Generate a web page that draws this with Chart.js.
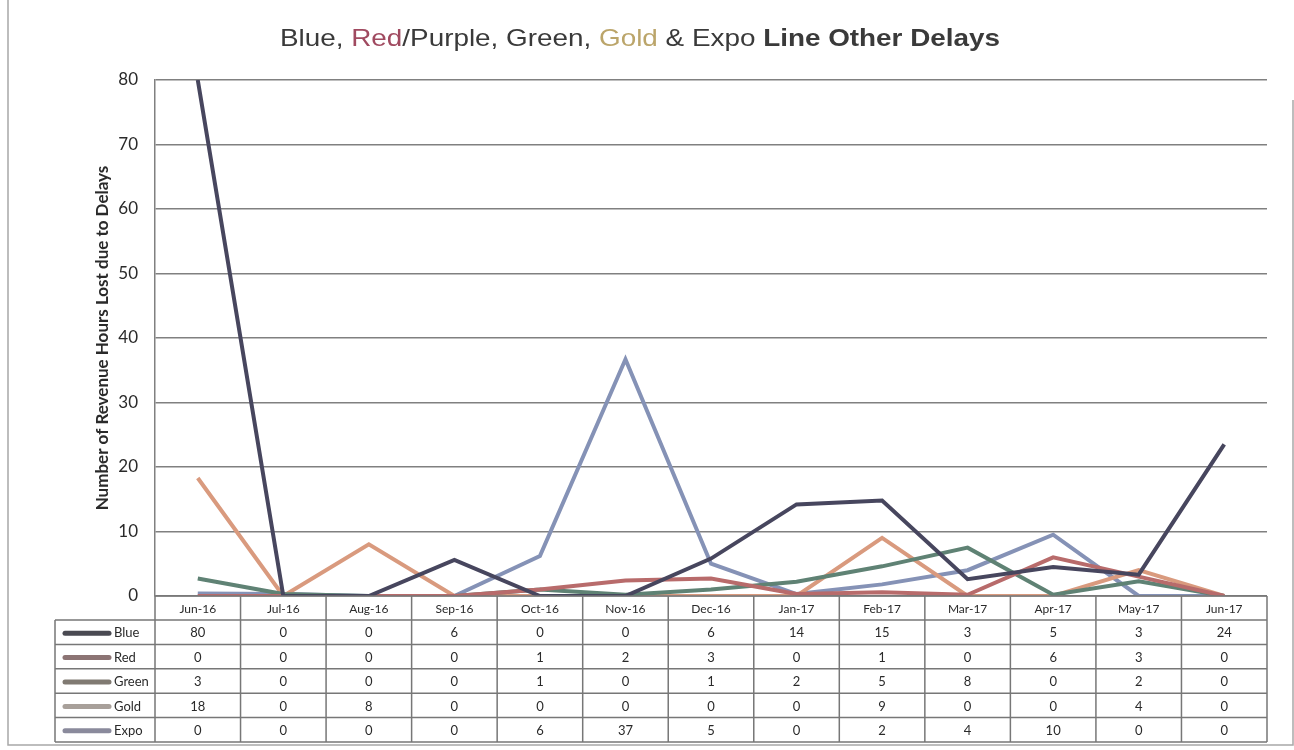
<!DOCTYPE html>
<html>
<head>
<meta charset="utf-8">
<script src="https://cdn.jsdelivr.net/npm/chart.js@4/dist/chart.umd.min.js"></script>
<style>
  html, body { margin: 0; padding: 0; background: #fff; }
  #wrap { width: 1294px; height: 750px; position: relative; }
</style>
</head>
<body>
<div id="wrap"><canvas id="delayChart" width="1294" height="750"></canvas></div>
<script>
/* Other delays by line — Chart.js line chart with a data table underneath */
const months = ['Jun-16', 'Jul-16', 'Aug-16', 'Sep-16', 'Oct-16', 'Nov-16', 'Dec-16',
                'Jan-17', 'Feb-17', 'Mar-17', 'Apr-17', 'May-17', 'Jun-17'];
const blueLine  = [80, 0, 0, 5.6, 0, 0, 5.8, 14.2, 14.8, 2.6, 4.5, 3.3, 23.5];
const redLine   = [0, 0, 0, 0, 1, 2.4, 2.7, 0.3, 0.6, 0.2, 6, 3, 0];
const greenLine = [2.7, 0.3, 0, 0, 1, 0.2, 1, 2.2, 4.6, 7.5, 0.2, 2.3, 0];
const goldLine  = [18.3, 0, 8, 0, 0, 0, 0, 0, 9, 0, 0, 4, 0];
const expoLine  = [0.4, 0.3, 0, 0, 6.2, 36.7, 5, 0.3, 1.8, 4, 9.5, 0, 0];
const yTicks    = [0, 10, 20, 30, 40, 50, 60, 70, 80];

const lineColors = {
  Blue: '#47465e',
  Red: '#b86b6b',
  Green: '#5f8274',
  Gold: '#d99a7e',
  Expo: '#8592b6',
};
const swatchColors = {
  Blue: '#4a4a52',
  Red: '#8c7474',
  Green: '#807a72',
  Gold: '#a8a09a',
  Expo: '#8a8a9c',
};

const gridColor = '#808080';
const textColor = '#2a2a2a';

const series = [
  { label: 'Blue', data: blueLine },
  { label: 'Red', data: redLine },
  { label: 'Green', data: greenLine },
  { label: 'Gold', data: goldLine },
  { label: 'Expo', data: expoLine },
];

// ── Title, axis title, data table, frame ───────────────────────
const extrasPlugin = {
  id: 'extras',
  afterDraw(chart) {
    const ctx = chart.ctx;
    const area = chart.chartArea;
    const x = chart.scales.x;

    // title with coloured words (the scan is stretched sideways a little)
    const parts = [
      { t: 'Blue, ', c: '#3a3a3a', b: false },
      { t: 'Red', c: '#a04a60', b: false },
      { t: '/Purple, Green, ', c: '#3a3a3a', b: false },
      { t: 'Gold', c: '#bba56a', b: false },
      { t: ' & Expo ', c: '#3a3a3a', b: false },
      { t: 'Line Other Delays', c: '#3a3a3a', b: true },
    ];
    const titleFont = b => (b ? 'bold ' : '') + '24px "Liberation Sans", Arial, sans-serif';
    ctx.save();
    ctx.textBaseline = 'middle';
    let total = 0;
    parts.forEach(p => {
      ctx.font = titleFont(p.b);
      p.w = ctx.measureText(p.t).width;
      total += p.w;
    });
    const stretch = 720 / total;
    ctx.save();
    ctx.translate(640 - 360, 39);
    ctx.scale(stretch, 1);
    let tx = 0;
    parts.forEach(p => {
      ctx.font = titleFont(p.b);
      ctx.fillStyle = p.c;
      ctx.textAlign = 'left';
      ctx.fillText(p.t, tx, 0);
      tx += p.w;
    });
    ctx.restore();

    // y axis title
    ctx.save();
    ctx.translate(103, (area.top + area.bottom) / 2);
    ctx.rotate(-Math.PI / 2);
    ctx.font = 'bold 17px Lato, "Open Sans", sans-serif';
    ctx.fillStyle = textColor;
    ctx.textAlign = 'center';
    ctx.fillText('Number of Revenue Hours Lost due to Delays', 0, 0);
    ctx.restore();

    // data table
    const colW = (area.right - area.left) / months.length;
    const headTop = area.bottom;
    const headBot = headTop + 24;
    const rowH = 24.4;
    const tableLeft = 55;
    const tableBot = headBot + rowH * series.length;

    ctx.strokeStyle = '#777';
    ctx.lineWidth = 1.5;
    ctx.beginPath();
    ctx.moveTo(area.left, headTop); ctx.lineTo(area.right, headTop);
    for (let i = 0; i <= months.length; i++) {
      const cx = area.left + i * colW;
      ctx.moveTo(cx, headTop); ctx.lineTo(cx, tableBot);
    }
    for (let r = 0; r <= series.length; r++) {
      const ry = headBot + r * rowH;
      ctx.moveTo(tableLeft, ry); ctx.lineTo(area.right, ry);
    }
    ctx.moveTo(tableLeft, headBot); ctx.lineTo(tableLeft, tableBot);
    ctx.stroke();

    ctx.fillStyle = textColor;
    ctx.textAlign = 'center';
    ctx.font = '12px Lato, "Open Sans", sans-serif';
    months.forEach((m, i) => {
      ctx.fillText(m, x.getPixelForValue(i), (headTop + headBot) / 2 + 1);
    });

    ctx.font = '13px Lato, "Open Sans", sans-serif';
    series.forEach((s, r) => {
      const cy = headBot + r * rowH + rowH / 2 + 1;
      ctx.strokeStyle = swatchColors[s.label];
      ctx.lineWidth = 5;
      ctx.lineCap = 'round';
      ctx.beginPath();
      ctx.moveTo(65, cy); ctx.lineTo(109, cy);
      ctx.stroke();
      ctx.fillStyle = textColor;
      ctx.textAlign = 'left';
      ctx.fillText(s.label, 114, cy);
      ctx.textAlign = 'center';
      s.data.forEach((v, i) => {
        ctx.fillText(String(Math.round(v)), x.getPixelForValue(i), cy);
      });
    });

    // outer frame
    ctx.strokeStyle = '#a8a8a8';
    ctx.lineWidth = 1.5;
    ctx.lineCap = 'butt';
    ctx.beginPath();
    ctx.moveTo(8, 0); ctx.lineTo(8, 745); ctx.lineTo(1293, 745); ctx.lineTo(1293, 100);
    ctx.stroke();
    ctx.restore();
  },
};

const chart = new Chart(document.getElementById('delayChart'), {
  type: 'line',
  data: {
    labels: months,
    datasets: series.map(s => ({
      label: s.label,
      data: s.data,
      borderColor: lineColors[s.label],
      backgroundColor: lineColors[s.label],
      borderWidth: 4,
      pointRadius: 0,
      tension: 0,
      fill: false,
    })),
  },
  options: {
    responsive: false,
    animation: false,
    layout: { padding: { left: 0, right: 27, top: 80, bottom: 154 } },
    plugins: {
      legend: { display: false },
      title: { display: false },
      tooltip: { enabled: false },
    },
    scales: {
      x: {
        display: false,
        offset: true,
      },
      y: {
        min: 0,
        max: 80,
        afterFit(scale) { scale.width = 155; },
        afterBuildTicks(scale) { scale.ticks = yTicks.map(v => ({ value: v })); },
        border: { display: true, color: gridColor, width: 1.5 },
        grid: { color: gridColor, lineWidth: 1.5, drawTicks: false },
        ticks: {
          color: textColor,
          padding: 17,
          font: { family: 'Lato, "Open Sans", sans-serif', size: 17 },
        },
      },
    },
  },
  plugins: [extrasPlugin],
});
</script>
</body>
</html>
